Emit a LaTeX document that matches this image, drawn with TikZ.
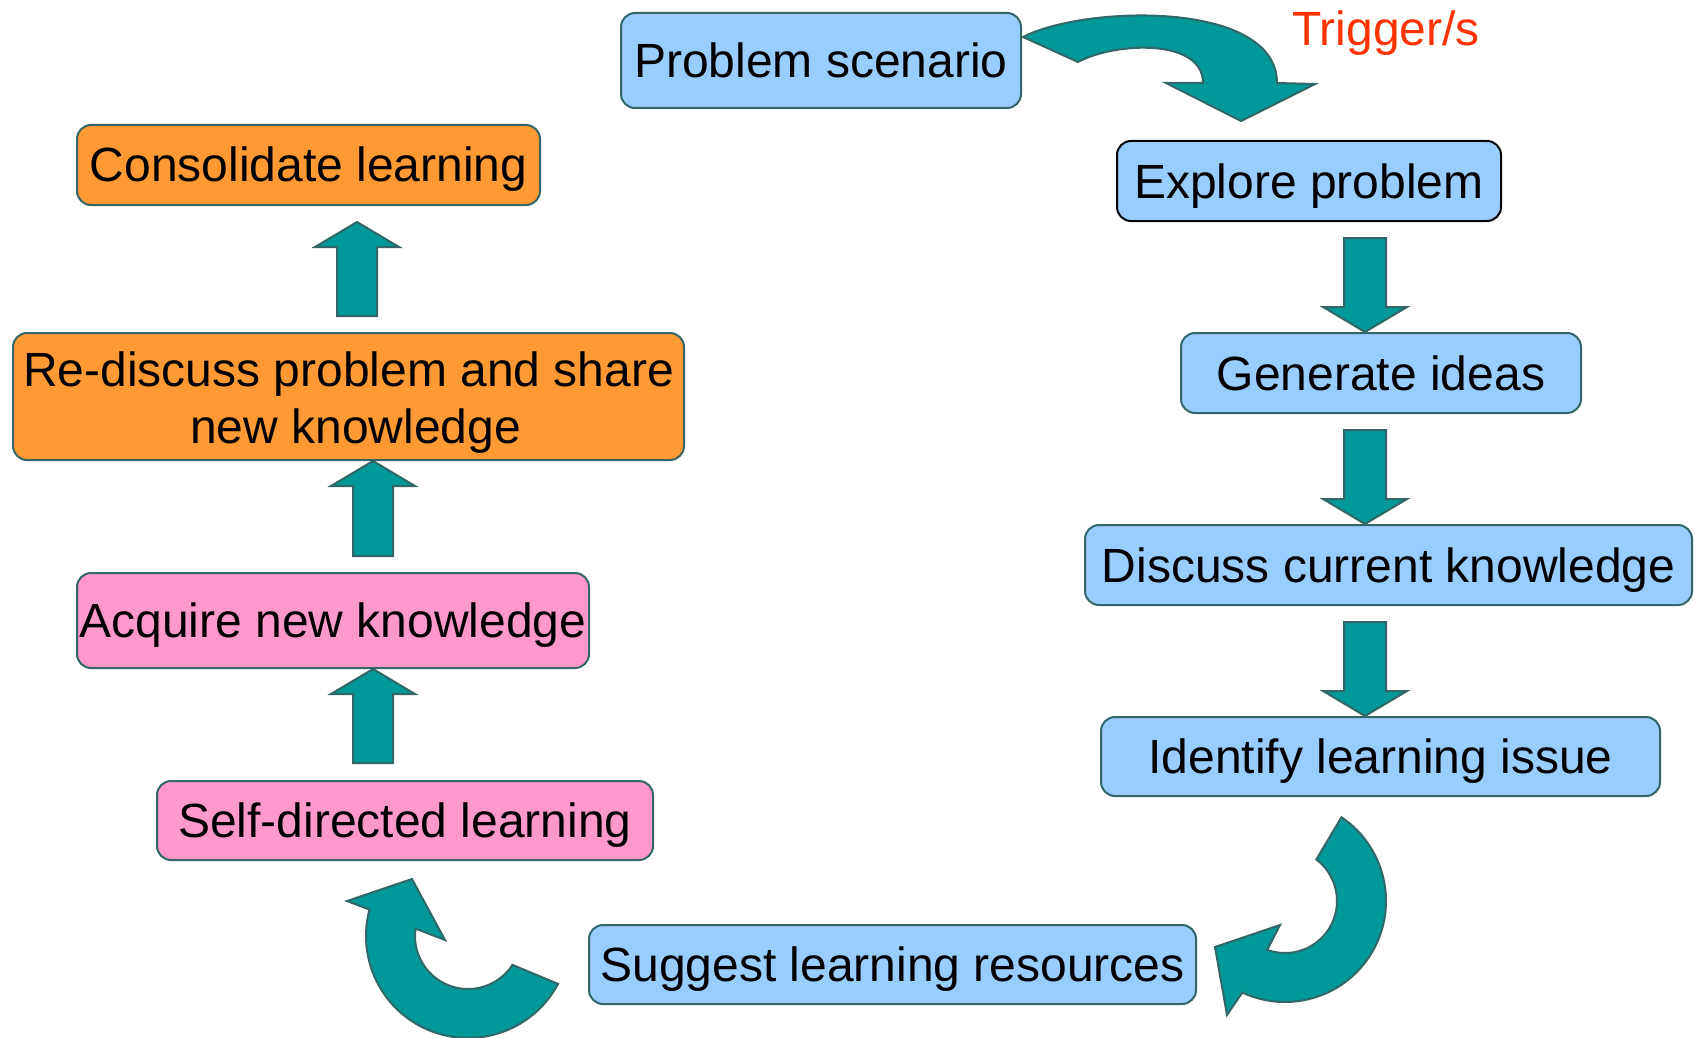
\documentclass[tikz,border=0pt]{standalone}
\usepackage{fontspec}
\setmainfont{Liberation Sans}
\usetikzlibrary{calc}
\definecolor{boxblue}{RGB}{153,204,255}
\definecolor{boxorange}{RGB}{255,153,51}
\definecolor{boxpink}{RGB}{255,153,204}
\definecolor{tealfill}{RGB}{0,153,153}
\definecolor{edgec}{RGB}{51,102,102}
\definecolor{trigc}{RGB}{255,51,0}
\tikzset{
  boxbase/.style={draw=edgec, line width=2pt, rounded corners=14pt, inner sep=0pt,
    font=\fontsize{48}{57}\selectfont},
  oneline/.style={text height=34pt, text depth=0pt},
  bluebox/.style={boxbase, oneline, fill=boxblue},
  orangebox/.style={boxbase, fill=boxorange},
  pinkbox/.style={boxbase, oneline, fill=boxpink},
  blk/.style={fill=tealfill, draw=edgec, line width=2pt, line join=miter},
}
% block arrow pointing down: x, from node, to node, start gap
\newcommand{\bkdown}[4]{%
  \coordinate (bkA) at (#1,0 |- #2.south);
  \coordinate (bkB) at (#1,0 |- #3.north);
  \draw[blk] ($(bkA)+(-21,#4)$) -- ($(bkA)+(21,#4)$) -- ($(bkB)+(21,-25)$) -- ($(bkB)+(42,-25)$)
    -- (bkB) -- ($(bkB)+(-42,-25)$) -- ($(bkB)+(-21,-25)$) -- cycle;}
% block arrow pointing up: x, from node, to node, start gap, tip gap
\newcommand{\bkup}[5]{%
  \coordinate (bkA) at (#1,0 |- #2.north);
  \coordinate (bkB) at (#1,0 |- #3.south);
  \draw[blk] ($(bkA)+(-20,-#4)$) -- ($(bkA)+(20,-#4)$) -- ($(bkB)+(20,25+#5)$) -- ($(bkB)+(42,25+#5)$)
    -- ($(bkB)+(0,#5)$) -- ($(bkB)+(-42,25+#5)$) -- ($(bkB)+(-20,25+#5)$) -- cycle;}
\begin{document}
\begin{tikzpicture}[x=1pt, y=-1pt]
\useasboundingbox (0,0) rectangle (1700,1038);

% boxes
\node[bluebox, minimum width=400pt, minimum height=95pt] (problem) at (821,60.5) {Problem scenario};
\node[bluebox, draw=black, minimum width=384pt, minimum height=80pt] (explore) at (1309,181) {Explore problem};
\node[bluebox, minimum width=400pt, minimum height=80pt] (generate) at (1381,373) {Generate ideas};
\node[bluebox, minimum width=607pt, minimum height=80pt] (discuss) at (1388.5,565) {Discuss current knowledge};
\node[bluebox, minimum width=559pt, minimum height=79pt] (identify) at (1380.5,756.5) {Identify learning issue};
\node[bluebox, minimum width=607pt, minimum height=79pt] (suggest) at (892.5,964.5) {Suggest learning resources};
\node[pinkbox, minimum width=496pt, minimum height=79pt] (self) at (405,820.5) {Self-directed learning};
\node[pinkbox, minimum width=512pt, minimum height=95pt] (acquire) at (333,620.5) {Acquire new knowledge};
\node[orangebox, align=center, text height=103pt, text depth=10pt, minimum width=671pt, minimum height=127pt] (rediscuss) at (348.5,396.5) {Re-discuss problem and share\\\hspace*{14pt}new knowledge};
\node[orangebox, oneline, minimum width=463pt, minimum height=80pt] (consolidate) at (308.5,165) {Consolidate learning};

\node[font=\fontsize{48}{57}\selectfont, text=trigc, inner sep=0pt, text height=34pt, text depth=0pt] (trigger) at (1386,29) {Trigger/s};

% straight block arrows
\bkdown{1365}{explore}{generate}{16}
\bkdown{1365}{generate}{discuss}{16}
\bkdown{1365}{discuss}{identify}{16}
\bkup{373}{self}{acquire}{17}{0}
\bkup{373}{acquire}{rediscuss}{16}{0}
\bkup{357}{rediscuss}{consolidate}{16}{16}

% curved arrow: problem scenario -> explore problem
\draw[blk] (1023,37) .. controls (1085,5) and (1277,0) .. (1277,83) -- (1315,84) -- (1241,121)
  -- (1166,83) -- (1203,83) .. controls (1203,38) and (1115,42) .. (1078,62) -- cycle;

% curved arrow: identify -> suggest
\coordinate (cr) at (1285,901);
\draw[blk] ($(cr)+(-56:101)$) arc[start angle=-56, end angle=115, radius=101]
  -- (1227,1015) -- (1215,947) -- (1280,925) -- ($(cr)+(110:52)$)
  arc[start angle=110, end angle=-53, radius=52] -- cycle;

% curved arrow: suggest -> self-directed
\coordinate (cl) at (468,936);
\draw[blk] ($(cl)+(28:102)$) arc[start angle=28, end angle=195, radius=102]
  -- (347,901) -- (412,879) -- (445,940) -- ($(cl)+(188:53)$)
  arc[start angle=188, end angle=33, radius=53] -- cycle;
\end{tikzpicture}
\end{document}
